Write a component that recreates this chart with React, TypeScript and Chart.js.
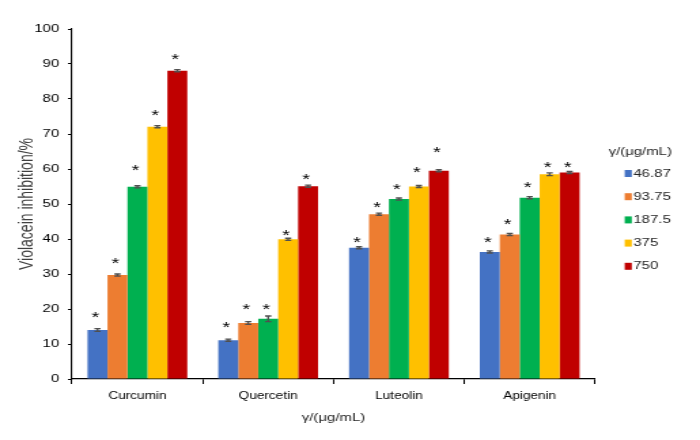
import React, { useEffect, useRef } from "react";
import { Chart, registerables } from "chart.js";

Chart.register(...registerables);

// ---- data ----
const categories = ["Curcumin", "Quercetin", "Luteolin", "Apigenin"];
const seriesLabels = ["46.87", "93.75", "187.5", "375", "750"];
const seriesColors = ["#4472C4", "#ED7D31", "#00B050", "#FFC000", "#C00000"];

const values4687 = [14.0, 11.1, 37.5, 36.3];
const values9375 = [29.7, 16.0, 47.1, 41.3];
const values1875 = [54.9, 17.2, 51.4, 51.8];
const values375 = [72.1, 39.9, 55.0, 58.5];
const values750 = [88.1, 55.1, 59.5, 59.0];

const errors4687 = [0.4, 0.3, 0.3, 0.3];
const errors9375 = [0.3, 0.4, 0.3, 0.3];
const errors1875 = [0.3, 0.8, 0.3, 0.3];
const errors375 = [0.3, 0.3, 0.3, 0.4];
const errors750 = [0.3, 0.3, 0.3, 0.3];

// vertical position (in % units) of the significance asterisks
const stars4687 = [18.3, 15.4, 39.8, 39.7];
const stars9375 = [33.7, 20.7, 49.7, 44.9];
const stars1875 = [60.4, 20.7, 54.9, 55.6];
const stars375 = [76.2, 41.9, 59.9, 61.3];
const stars750 = [92.1, 57.8, 65.4, 61.3];

const yMin = 0;
const yMax = 100;
const yStep = 10;

const xTitle = "γ/(μg/mL)";
const yTitle = "Violacein inhibition/%";
const legendTitle = "γ/(μg/mL)";

const allValues = [values4687, values9375, values1875, values375, values750];
const allErrors = [errors4687, errors9375, errors1875, errors375, errors750];
const allStars = [stars4687, stars9375, stars1875, stars375, stars750];

// ---- layout (canvas is drawn at reduced width and stretched horizontally) ----
const CSS_W = 700;
const CSS_H = 440;
const INT_W = 515;
const FONT = "'Liberation Sans', Arial, sans-serif";

const errorStarPlugin = {
  id: "errorStars",
  afterDatasetsDraw(chart: any) {
    const ctx = chart.ctx;
    const yScale = chart.scales.y;
    ctx.save();
    chart.data.datasets.forEach((ds: any, di: number) => {
      const meta = chart.getDatasetMeta(di);
      meta.data.forEach((bar: any, i: number) => {
        const v = allValues[di][i];
        const e = allErrors[di][i];
        const x = bar.x;
        const yTop = yScale.getPixelForValue(v + e);
        const yBot = yScale.getPixelForValue(v - e);
        ctx.strokeStyle = "#505050";
        ctx.lineWidth = 1.4;
        ctx.beginPath();
        ctx.moveTo(x, yTop);
        ctx.lineTo(x, yBot);
        ctx.moveTo(x - 2.3, yTop);
        ctx.lineTo(x + 2.3, yTop);
        ctx.moveTo(x - 2.3, yBot);
        ctx.lineTo(x + 2.3, yBot);
        ctx.stroke();
        const sy = yScale.getPixelForValue(allStars[di][i]);
        ctx.fillStyle = "#000";
        ctx.font = `15px ${FONT}`;
        ctx.textAlign = "center";
        ctx.textBaseline = "alphabetic";
        ctx.fillText("*", x - 1.5, sy + 7.2);
      });
    });
    ctx.restore();
  },
  afterDraw(chart: any) {
    const ctx = chart.ctx;
    ctx.save();
    ctx.fillStyle = "#262626";
    ctx.font = `11px ${FONT}`;
    ctx.textAlign = "center";
    ctx.textBaseline = "middle";
    ctx.fillText(legendTitle, 471, 151.5);
    chart.data.datasets.forEach((ds: any, di: number) => {
      const cy = 173.5 + di * 23.2;
      ctx.fillStyle = ds.backgroundColor;
      ctx.fillRect(459.6, cy - 3.5, 5.2, 7);
      ctx.fillStyle = "#262626";
      ctx.textAlign = "left";
      ctx.fillText(ds.label, 466, cy);
    });
    ctx.restore();
  },
};

function BarChart() {
  const ref = useRef<HTMLCanvasElement | null>(null);
  useEffect(() => {
    const canvas = ref.current;
    if (!canvas) return;
    const chart = new Chart(canvas, {
      type: "bar",
      data: {
        labels: categories,
        datasets: seriesLabels.map((label, i) => ({
          label,
          data: allValues[i],
          backgroundColor: seriesColors[i],
          borderWidth: 0,
          categoryPercentage: 0.763,
          barPercentage: 1,
        })),
      },
      options: {
        responsive: false,
        animation: false,
        devicePixelRatio: 1,
        layout: { padding: { left: 0, right: INT_W - 437.8, top: 29, bottom: 0 } },
        plugins: {
          legend: { display: false },
          tooltip: { enabled: false },
        },
        scales: {
          x: {
            grid: {
              display: true,
              drawOnChartArea: false,
              drawTicks: true,
              tickLength: 5,
              color: "#000",
              lineWidth: 1,
            },
            border: { display: true, color: "#000", width: 1.3 },
            ticks: {
              color: "#000",
              font: { family: FONT, size: 10 },
              padding: 6.5,
            },
            title: {
              display: true,
              text: xTitle,
              color: "#262626",
              font: { family: FONT, size: 11 },
              padding: { top: 0, bottom: 15 },
            },
            afterFit: (axis: any) => {
              axis.height = CSS_H - 379;
            },
          },
          y: {
            min: yMin,
            max: yMax,
            grid: {
              display: true,
              drawOnChartArea: false,
              drawTicks: true,
              tickLength: 3,
              color: "#000",
            },
            border: { display: true, color: "#000", width: 1.1 },
            ticks: {
              stepSize: yStep,
              color: "#000",
              font: { family: FONT, size: 11 },
              padding: 6.4,
            },
            title: {
              display: true,
              text: yTitle,
              color: "#404040",
              font: { family: FONT, size: 14 },
              padding: { top: 11.5, bottom: 0 },
            },
            afterFit: (axis: any) => {
              axis.width = 53;
            },
          },
        },
      },
      plugins: [errorStarPlugin],
    });
    return () => chart.destroy();
  }, []);
  return (
    <canvas
      ref={ref}
      width={INT_W}
      height={CSS_H}
      style={{ width: CSS_W + "px", height: CSS_H + "px", display: "block" }}
    />
  );
}

export default function App() {
  return (
    <div
      style={{
        position: "fixed",
        left: 0,
        top: 0,
        width: CSS_W,
        height: CSS_H,
        background: "#fff",
      }}
    >
      <BarChart />
    </div>
  );
}
